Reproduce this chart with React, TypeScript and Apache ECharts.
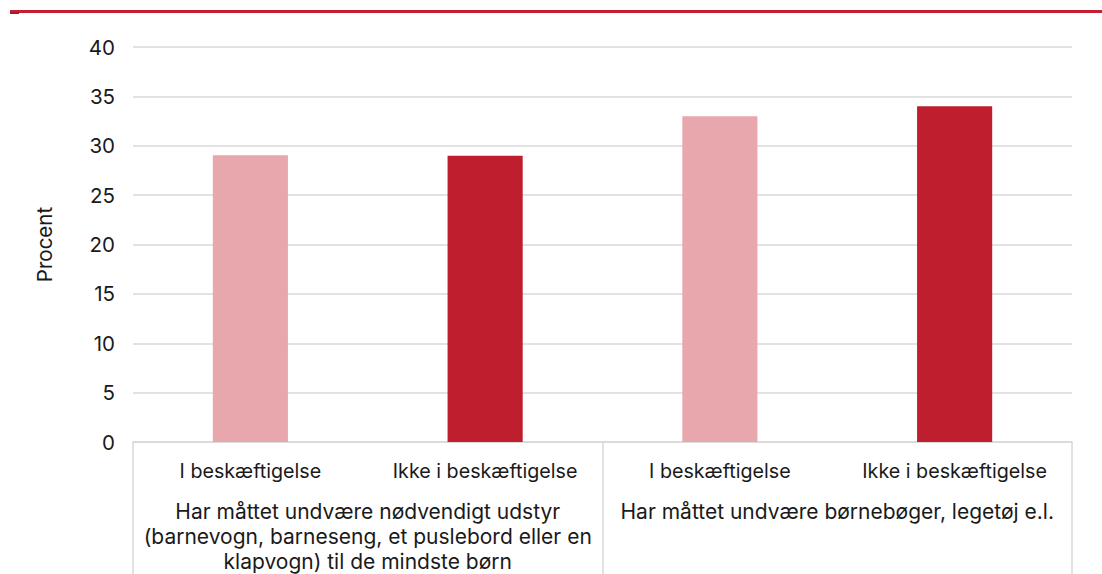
import React, { useEffect, useRef } from "react";
import * as echarts from "echarts";

const subCategories = ["I beskæftigelse", "Ikke i beskæftigelse", "I beskæftigelse", "Ikke i beskæftigelse"];
const groupCategories = [
  "Har måttet undvære nødvendigt udstyr\n(barnevogn, barneseng, et puslebord eller en\nklapvogn) til de mindste børn",
  "Har måttet undvære børnebøger, legetøj e.l.",
];
const values = [29.05, 29.0, 33.0, 34.0];
const barColors = ["#E8A7AC", "#BE1E2D", "#E8A7AC", "#BE1E2D"];
const yTicks = { min: 0, max: 40, interval: 5 };
const yName = "Procent";

const FONT = "Inter, 'Noto Sans', sans-serif";

export default function App() {
  const ref = useRef<HTMLDivElement>(null);
  useEffect(() => {
    const chart = echarts.init(ref.current!, null, { renderer: "svg" });
    chart.setOption({
      animation: false,
      textStyle: { fontFamily: FONT },
      grid: { left: 133, right: 30, top: 47, bottom: 131, containLabel: false },
      graphic: [
        { type: "rect", shape: { x: 10, y: 10, width: 1092, height: 3 }, style: { fill: "#C41E32" } },
        { type: "rect", shape: { x: 10, y: 12, width: 9, height: 2 }, style: { fill: "#A51A2A" } },
      ],
      xAxis: [
        {
          type: "category",
          data: subCategories,
          position: "bottom",
          axisLine: { show: true, lineStyle: { color: "#D9D9D9", width: 1.5 } },
          axisTick: { show: false },
          axisLabel: { color: "#1a1a1a", fontSize: 19.7, margin: 19, fontFamily: FONT, interval: 0 },
        },
        {
          type: "category",
          data: groupCategories,
          position: "bottom",
          offset: 0,
          axisLine: { show: false },
          axisTick: { show: true, length: 135, alignWithLabel: false, interval: 0, lineStyle: { color: "#D9D9D9", width: 1.5 } },
          axisLabel: {
            color: "#1a1a1a",
            fontSize: 21,
            margin: 57,
            lineHeight: 25,
            fontFamily: FONT,
            interval: 0,
            verticalAlign: "top",
          },
        },
      ],
      yAxis: {
        type: "value",
        min: yTicks.min,
        max: yTicks.max,
        interval: yTicks.interval,
        name: yName,
        nameLocation: "middle",
        nameGap: 78,
        nameRotate: 90,
        nameTextStyle: { color: "#1a1a1a", fontSize: 20.5, fontFamily: FONT },
        axisLine: { show: false },
        axisTick: { show: false },
        axisLabel: { color: "#1a1a1a", fontSize: 20.5, margin: 18, fontFamily: FONT },
        splitLine: { lineStyle: { color: "#D9D9D9", width: 1.5 } },
      },
      series: [
        {
          type: "bar",
          xAxisIndex: 0,
          barWidth: "32%",
          data: values.map((v, i) => ({ value: v, itemStyle: { color: barColors[i] } })),
        },
      ],
    });
    return () => chart.dispose();
  }, []);
  return <div ref={ref} style={{ width: 1102, height: 574, position: "absolute", left: 0, top: 0 }} />;
}
